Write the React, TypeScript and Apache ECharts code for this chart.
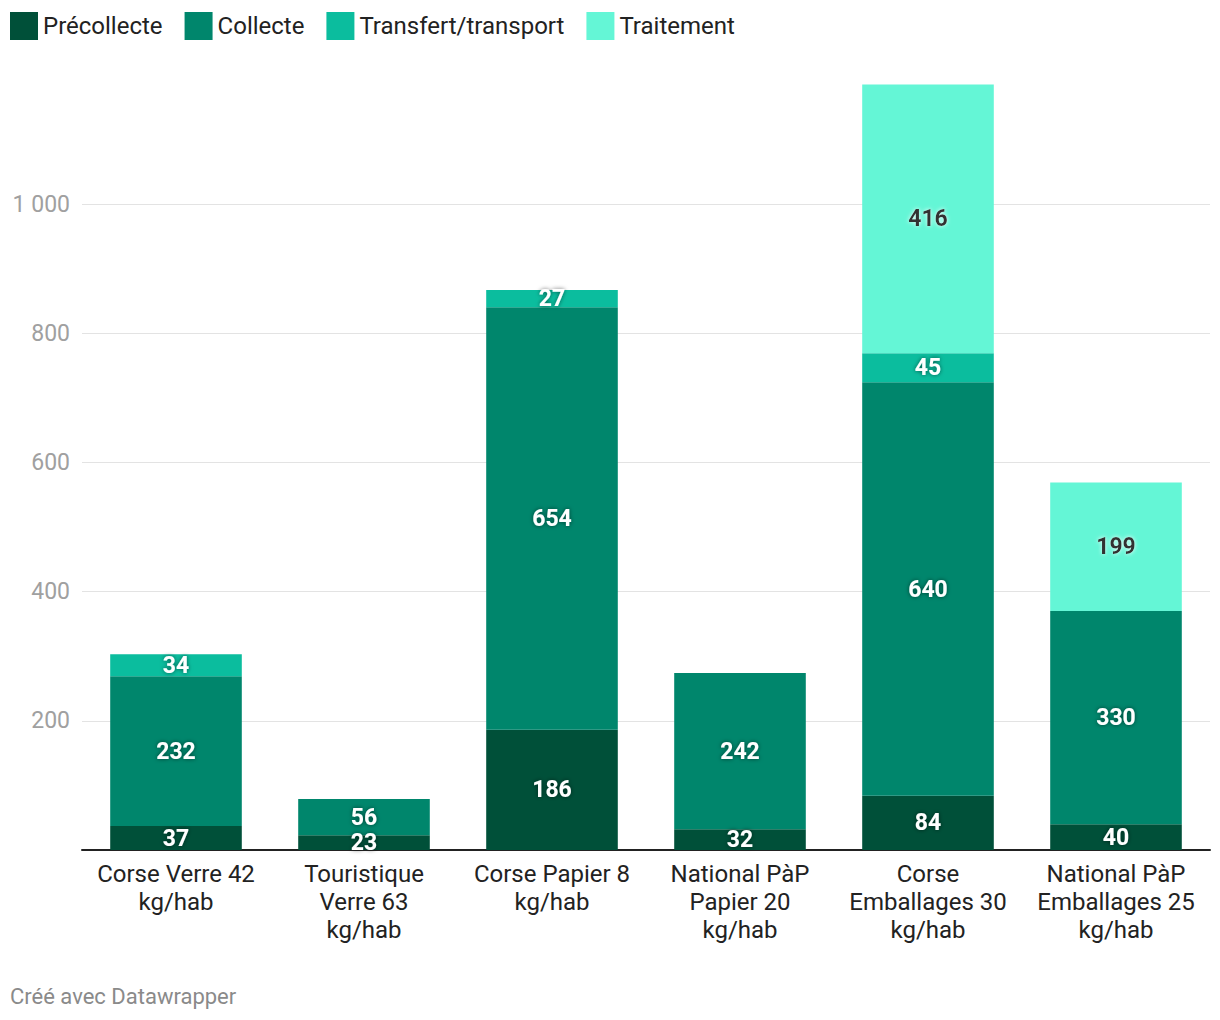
import React, { useEffect, useRef } from "react";
import * as echarts from "echarts";

const categories = [
  "Corse Verre 42\nkg/hab",
  "Touristique\nVerre 63\nkg/hab",
  "Corse Papier 8\nkg/hab",
  "National PàP\nPapier 20\nkg/hab",
  "Corse\nEmballages 30\nkg/hab",
  "National PàP\nEmballages 25\nkg/hab",
];
const seriesNames = ["Précollecte", "Collecte", "Transfert/transport", "Traitement"];
const precollecte = [37, 23, 186, 32, 84, 40];
const collecte = [232, 56, 654, 242, 640, 330];
const transfert = [34, null, 27, null, 45, null];
const traitement = [null, null, null, null, 416, 199];
const colors = ["#005039", "#00866c", "#0bbd9e", "#64f6d6"];
const footerText = "Créé avec Datawrapper";

const FONT = "Roboto";

export default function App() {
  const ref = useRef<HTMLDivElement>(null);
  useEffect(() => {
    document.body.style.margin = "0";
    const chart = echarts.init(ref.current!, null, { renderer: "svg" });
    const data = [precollecte, collecte, transfert, traitement];
    const series = data.map((d, i) => ({
      name: seriesNames[i],
      type: "bar",
      stack: "total",
      barWidth: "70%",
      data: d,
      itemStyle: { color: colors[i] },
      emphasis: { disabled: true },
      label: {
        show: true,
        position: "inside",
        formatter: (p: any) => (p.value == null ? "" : String(p.value)),
        fontFamily: FONT,
        fontSize: 23,
        fontWeight: "bold",
        color: i === 3 ? "#333333" : "#ffffff",
        textShadowColor: i === 3 ? "rgba(255,255,255,0.9)" : "rgba(0,0,0,0.55)",
        textShadowBlur: 4,
      },
    }));
    chart.setOption({
      animation: false,
      textStyle: { fontFamily: FONT },
      legend: {
        left: 10,
        top: 12,
        padding: 0,
        icon: "rect",
        itemWidth: 28,
        itemHeight: 28,
        itemGap: 22,
        selectedMode: false,
        textStyle: { fontFamily: FONT, fontSize: 24, color: "#222222" },
        data: seriesNames,
      },
      grid: { left: 82, right: 10, top: 74.8, bottom: 170, containLabel: false },
      xAxis: {
        type: "category",
        data: categories,
        axisLine: { lineStyle: { color: "#222222", width: 2 } },
        axisTick: { show: false },
        axisLabel: {
          fontFamily: FONT,
          fontSize: 24,
          color: "#222222",
          lineHeight: 28,
          margin: 10,
          interval: 0,
        },
      },
      yAxis: {
        type: "value",
        min: 0,
        max: 1200,
        interval: 200,
        axisLine: { show: false },
        axisTick: { show: false },
        splitLine: { lineStyle: { color: "#e3e3e3", width: 1 }, showMinLine: false, showMaxLine: false },
        axisLabel: {
          fontFamily: FONT,
          fontSize: 23,
          color: "#a0a0a0",
          margin: 12,
          showMinLabel: false,
          showMaxLabel: false,
          formatter: (v: number) => String(v).replace(/\B(?=(\d{3})+(?!\d))/g, " "),
        },
      },
      graphic: [
        {
          type: "text",
          left: 10,
          top: 985,
          style: { text: footerText, fontFamily: FONT, fontSize: 22, fill: "#8a8a8a" },
        },
      ],
      series,
    });
    return () => chart.dispose();
  }, []);
  return <div ref={ref} style={{ width: 1220, height: 1020 }} />;
}
